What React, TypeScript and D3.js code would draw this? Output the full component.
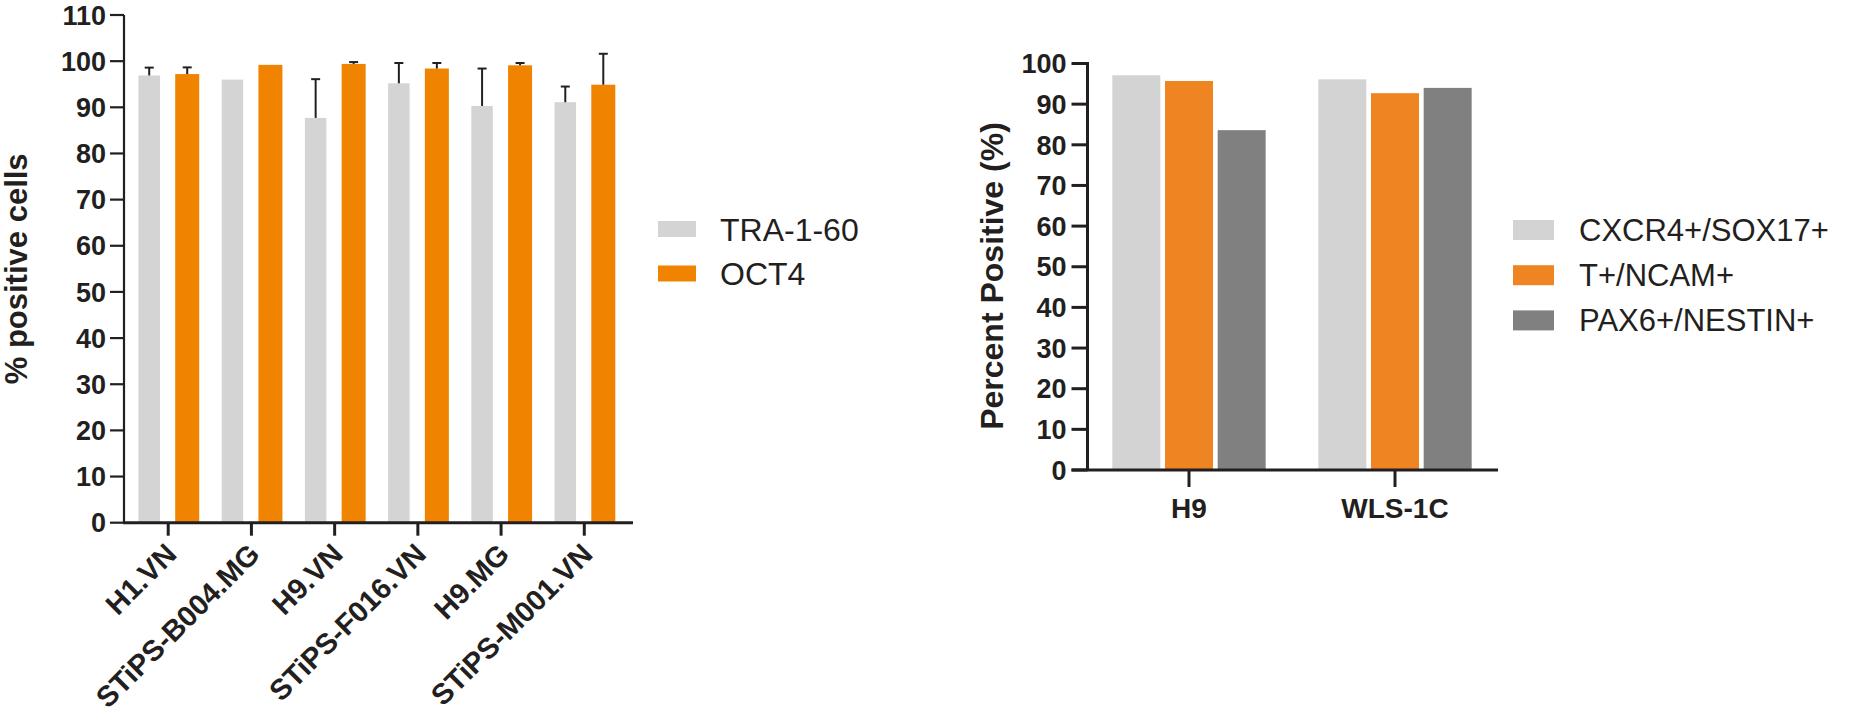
import React from 'react';
import * as d3 from 'd3';

// ---------- Left chart data ----------
const leftCategories = ['H1.VN', 'STiPS-B004.MG', 'H9.VN', 'STiPS-F016.VN', 'H9.MG', 'STiPS-M001.VN'];
const leftSeries = ['TRA-1-60', 'OCT4'];
const tra160 = [96.9, 96.0, 87.7, 95.2, 90.3, 91.1];
const tra160Err = [1.7, 0, 8.4, 4.4, 8.1, 3.4];
const oct4 = [97.2, 99.2, 99.4, 98.4, 99.1, 94.9];
const oct4Err = [1.45, 0, 0.4, 1.2, 0.5, 6.7];
const leftTicks = [0, 10, 20, 30, 40, 50, 60, 70, 80, 90, 100, 110];
const leftYTitle = '% positive cells';

// ---------- Right chart data ----------
const rightCategories = ['H9', 'WLS-1C'];
const rightSeries = ['CXCR4+/SOX17+', 'T+/NCAM+', 'PAX6+/NESTIN+'];
const cxcr4Sox17 = [97.1, 96.1];
const tNcam = [95.7, 92.7];
const pax6Nestin = [83.6, 94.0];
const rightTicks = [0, 10, 20, 30, 40, 50, 60, 70, 80, 90, 100];
const rightYTitle = 'Percent Positive (%)';

const INK = '#231f20';
const FONT = '"Liberation Sans", Arial, Helvetica, sans-serif';

export default function App() {
  // ----- left scales -----
  const lx = d3.scaleBand<string>().domain(leftCategories).range([126.6, 625.9]);
  const lInner = d3.scaleBand<string>().domain(leftSeries).range([-38, 38]);
  const ly = d3.scaleLinear().domain([0, 110]).range([522.7, 15]);
  const lCenter = (c: string) => (lx(c) as number) + lx.bandwidth() / 2;
  const lColors = ['#d4d4d4', '#f08300'];
  const lWidths = [21.5, 24];
  const lValues = [tra160, oct4];
  const lErrs = [tra160Err, oct4Err];

  // ----- right scales -----
  const rx = d3.scaleBand<string>().domain(rightCategories).range([1086, 1498]);
  const rInner = d3.scaleBand<string>().domain(rightSeries).range([-79, 79]);
  const ry = d3.scaleLinear().domain([0, 100]).range([470, 63.5]);
  const rCenter = (c: string) => (rx(c) as number) + rx.bandwidth() / 2;
  const rColors = ['#d3d3d3', '#ee8422', '#808080'];
  const rValues = [cxcr4Sox17, tNcam, pax6Nestin];
  const rBarW = 48;

  const lAxisX = 124;
  const rAxisX = 1087.5;

  return (
    <svg
      width={1868}
      height={721}
      style={{ position: 'absolute', left: 0, top: 0, background: '#fff', display: 'block' }}
      fontFamily={FONT}
    >
      <rect x={0} y={0} width={1868} height={721} fill="#fff" />

      {/* ================= LEFT CHART ================= */}
      {leftSeries.map((s, si) =>
        leftCategories.map((c, ci) => {
          const cx = lCenter(c) + (lInner(s) as number) + lInner.bandwidth() / 2;
          const v = lValues[si][ci];
          const w = lWidths[si];
          return (
            <rect
              key={`lb-${si}-${ci}`}
              x={cx - w / 2}
              y={ly(v)}
              width={w}
              height={ly(0) - ly(v)}
              fill={lColors[si]}
            />
          );
        })
      )}
      {leftSeries.map((s, si) =>
        leftCategories.map((c, ci) => {
          const e = lErrs[si][ci];
          if (!e) return null;
          const cx = lCenter(c) + (lInner(s) as number) + lInner.bandwidth() / 2;
          const v = lValues[si][ci];
          return (
            <g key={`le-${si}-${ci}`} stroke={INK} strokeWidth={2}>
              <line x1={cx} x2={cx} y1={ly(v)} y2={ly(v + e)} />
              <line x1={cx - 4.5} x2={cx + 4.5} y1={ly(v + e)} y2={ly(v + e)} />
            </g>
          );
        })
      )}
      <line x1={lAxisX} x2={lAxisX} y1={ly(110)} y2={ly(0) + 1} stroke={INK} strokeWidth={2.2} />
      {leftTicks.map((t) => (
        <g key={`lt-${t}`}>
          <line x1={lAxisX - 14} x2={lAxisX} y1={ly(t)} y2={ly(t)} stroke={INK} strokeWidth={2.2} />
          <text
            x={lAxisX - 18}
            y={ly(t)}
            dy="0.36em"
            textAnchor="end"
            fontSize={27}
            fontWeight="bold"
            fill={INK}
          >
            {t}
          </text>
        </g>
      ))}
      <line x1={lAxisX - 1} x2={633} y1={ly(0)} y2={ly(0)} stroke={INK} strokeWidth={3} />
      {leftCategories.map((c) => (
        <g key={`lx-${c}`}>
          <line x1={lCenter(c)} x2={lCenter(c)} y1={ly(0)} y2={ly(0) + 13} stroke={INK} strokeWidth={3} />
          <text
            transform={`translate(${lCenter(c) + 10},${556}) rotate(-45)`}
            textAnchor="end"
            fontSize={29}
            fontWeight="bold"
            fill={INK}
          >
            {c}
          </text>
        </g>
      ))}
      <text
        transform={`translate(27,${(ly(0) + ly(110)) / 2}) rotate(-90)`}
        textAnchor="middle"
        fontSize={31}
        fontWeight="bold"
        fill={INK}
      >
        {leftYTitle}
      </text>
      {leftSeries.map((s, si) => (
        <g key={`ll-${s}`}>
          <rect x={658} y={221 + si * 44.5} width={38} height={16} fill={lColors[si]} />
          <text x={720} y={229 + si * 44.5 + 11.5} fontSize={32} fill={INK}>
            {s}
          </text>
        </g>
      ))}

      {/* ================= RIGHT CHART ================= */}
      {rightSeries.map((s, si) =>
        rightCategories.map((c, ci) => {
          const cx = rCenter(c) + (rInner(s) as number) + rInner.bandwidth() / 2;
          const v = rValues[si][ci];
          return (
            <rect
              key={`rb-${si}-${ci}`}
              x={cx - rBarW / 2}
              y={ry(v)}
              width={rBarW}
              height={ry(0) - ry(v)}
              fill={rColors[si]}
            />
          );
        })
      )}
      <line x1={rAxisX} x2={rAxisX} y1={ry(100) - 1.5} y2={ry(0)} stroke={INK} strokeWidth={3} />
      {rightTicks.map((t) => (
        <g key={`rt-${t}`}>
          <line x1={rAxisX - 16} x2={rAxisX} y1={ry(t)} y2={ry(t)} stroke={INK} strokeWidth={3} />
          <text
            x={rAxisX - 21}
            y={ry(t)}
            dy="0.36em"
            textAnchor="end"
            fontSize={27}
            fontWeight="bold"
            fill={INK}
          >
            {t}
          </text>
        </g>
      ))}
      <line x1={rAxisX - 16} x2={1498} y1={ry(0)} y2={ry(0)} stroke={INK} strokeWidth={3} />
      {rightCategories.map((c) => (
        <g key={`rx-${c}`}>
          <line x1={rCenter(c)} x2={rCenter(c)} y1={ry(0)} y2={ry(0) + 17} stroke={INK} strokeWidth={3} />
          <text x={rCenter(c)} y={518} textAnchor="middle" fontSize={28} fontWeight="bold" fill={INK}>
            {c}
          </text>
        </g>
      ))}
      <text
        transform={`translate(1003,276) rotate(-90)`}
        textAnchor="middle"
        fontSize={32}
        fontWeight="bold"
        fill={INK}
      >
        {rightYTitle}
      </text>
      {rightSeries.map((s, si) => (
        <g key={`rl-${s}`}>
          <rect x={1513} y={220 + si * 45.2} width={41} height={20} fill={rColors[si]} />
          <text x={1579} y={230 + si * 45.2 + 11} fontSize={31} fill={INK}>
            {s}
          </text>
        </g>
      ))}
    </svg>
  );
}
